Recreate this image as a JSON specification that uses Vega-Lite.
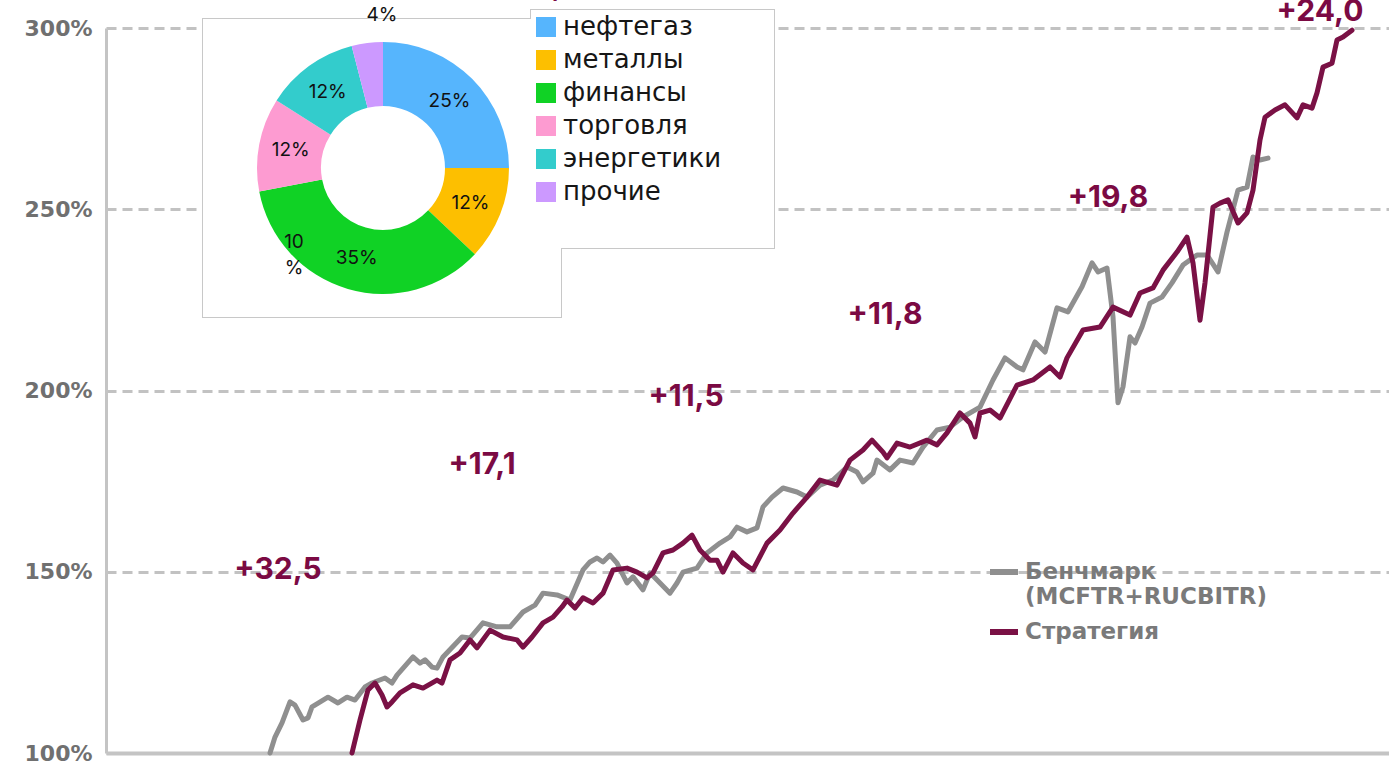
{
  "$schema": "https://vega.github.io/schema/vega-lite/v6.json",
  "width": 1283,
  "height": 725,
  "autosize": {"type": "none"},
  "padding": {"left": 106, "top": 28, "right": 0, "bottom": 11},
  "background": "white",
  "config": {
    "view": {"stroke": null},
    "axisY": {"domainColor": "#c4c4c4", "domainWidth": 3, "ticks": false, "labelFont": "DejaVu Sans", "labelFontWeight": "bold", "labelFontSize": 22, "labelColor": "#707070", "labelPadding": 14, "gridColor": "#c2c2c2", "gridWidth": 3, "gridDash": [10, 6], "title": null},
    "axisX": {"domainColor": "#c4c4c4", "domainWidth": 4, "ticks": false, "labels": false, "grid": false, "title": null}
  },
  "datasets": {
    "perf": [
      {"series": "Бенчмарк (MCFTR+RUCBITR)", "t": 16.4, "v": 100},
      {"series": "Бенчмарк (MCFTR+RUCBITR)", "t": 16.9, "v": 104.4},
      {"series": "Бенчмарк (MCFTR+RUCBITR)", "t": 17.6, "v": 108.3},
      {"series": "Бенчмарк (MCFTR+RUCBITR)", "t": 18.4, "v": 114.1},
      {"series": "Бенчмарк (MCFTR+RUCBITR)", "t": 18.9, "v": 113.2},
      {"series": "Бенчмарк (MCFTR+RUCBITR)", "t": 19.7, "v": 109.1},
      {"series": "Бенчмарк (MCFTR+RUCBITR)", "t": 20.2, "v": 109.7},
      {"series": "Бенчмарк (MCFTR+RUCBITR)", "t": 20.6, "v": 112.7},
      {"series": "Бенчмарк (MCFTR+RUCBITR)", "t": 22.2, "v": 115.4},
      {"series": "Бенчмарк (MCFTR+RUCBITR)", "t": 23.2, "v": 113.8},
      {"series": "Бенчмарк (MCFTR+RUCBITR)", "t": 24.1, "v": 115.4},
      {"series": "Бенчмарк (MCFTR+RUCBITR)", "t": 24.9, "v": 114.6},
      {"series": "Бенчмарк (MCFTR+RUCBITR)", "t": 25.9, "v": 118.2},
      {"series": "Бенчмарк (MCFTR+RUCBITR)", "t": 26.6, "v": 119.3},
      {"series": "Бенчмарк (MCFTR+RUCBITR)", "t": 27.9, "v": 120.7},
      {"series": "Бенчмарк (MCFTR+RUCBITR)", "t": 28.6, "v": 119.3},
      {"series": "Бенчмарк (MCFTR+RUCBITR)", "t": 29.1, "v": 121.5},
      {"series": "Бенчмарк (MCFTR+RUCBITR)", "t": 30.7, "v": 126.5},
      {"series": "Бенчмарк (MCFTR+RUCBITR)", "t": 31.4, "v": 124.8},
      {"series": "Бенчмарк (MCFTR+RUCBITR)", "t": 31.9, "v": 125.7},
      {"series": "Бенчмарк (MCFTR+RUCBITR)", "t": 32.6, "v": 123.7},
      {"series": "Бенчмарк (MCFTR+RUCBITR)", "t": 33.1, "v": 123.4},
      {"series": "Бенчмарк (MCFTR+RUCBITR)", "t": 33.7, "v": 126.5},
      {"series": "Бенчмарк (MCFTR+RUCBITR)", "t": 35.6, "v": 132.0},
      {"series": "Бенчмарк (MCFTR+RUCBITR)", "t": 36.4, "v": 131.7},
      {"series": "Бенчмарк (MCFTR+RUCBITR)", "t": 37.7, "v": 135.9},
      {"series": "Бенчмарк (MCFTR+RUCBITR)", "t": 39.1, "v": 134.8},
      {"series": "Бенчмарк (MCFTR+RUCBITR)", "t": 40.4, "v": 134.8},
      {"series": "Бенчмарк (MCFTR+RUCBITR)", "t": 41.7, "v": 138.9},
      {"series": "Бенчмарк (MCFTR+RUCBITR)", "t": 42.9, "v": 140.8},
      {"series": "Бенчмарк (MCFTR+RUCBITR)", "t": 43.7, "v": 144.1},
      {"series": "Бенчмарк (MCFTR+RUCBITR)", "t": 45.1, "v": 143.6},
      {"series": "Бенчмарк (MCFTR+RUCBITR)", "t": 46.4, "v": 142.2},
      {"series": "Бенчмарк (MCFTR+RUCBITR)", "t": 47.7, "v": 150.5},
      {"series": "Бенчмарк (MCFTR+RUCBITR)", "t": 48.4, "v": 152.7},
      {"series": "Бенчмарк (MCFTR+RUCBITR)", "t": 49.1, "v": 153.8},
      {"series": "Бенчмарк (MCFTR+RUCBITR)", "t": 49.7, "v": 152.7},
      {"series": "Бенчмарк (MCFTR+RUCBITR)", "t": 50.4, "v": 154.6},
      {"series": "Бенчмарк (MCFTR+RUCBITR)", "t": 51.1, "v": 152.4},
      {"series": "Бенчмарк (MCFTR+RUCBITR)", "t": 52.1, "v": 146.9},
      {"series": "Бенчмарк (MCFTR+RUCBITR)", "t": 52.7, "v": 148.6},
      {"series": "Бенчмарк (MCFTR+RUCBITR)", "t": 53.7, "v": 145.0},
      {"series": "Бенчмарк (MCFTR+RUCBITR)", "t": 54.4, "v": 149.7},
      {"series": "Бенчмарк (MCFTR+RUCBITR)", "t": 55.4, "v": 146.9},
      {"series": "Бенчмарк (MCFTR+RUCBITR)", "t": 56.4, "v": 144.1},
      {"series": "Бенчмарк (MCFTR+RUCBITR)", "t": 57.1, "v": 146.9},
      {"series": "Бенчмарк (MCFTR+RUCBITR)", "t": 57.7, "v": 149.9},
      {"series": "Бенчмарк (MCFTR+RUCBITR)", "t": 59.1, "v": 151.0},
      {"series": "Бенчмарк (MCFTR+RUCBITR)", "t": 60.1, "v": 155.2},
      {"series": "Бенчмарк (MCFTR+RUCBITR)", "t": 61.4, "v": 157.9},
      {"series": "Бенчмарк (MCFTR+RUCBITR)", "t": 62.4, "v": 159.6},
      {"series": "Бенчмарк (MCFTR+RUCBITR)", "t": 63.1, "v": 162.3},
      {"series": "Бенчмарк (MCFTR+RUCBITR)", "t": 64.1, "v": 161.0},
      {"series": "Бенчмарк (MCFTR+RUCBITR)", "t": 65.1, "v": 162.1},
      {"series": "Бенчмарк (MCFTR+RUCBITR)", "t": 65.7, "v": 167.9},
      {"series": "Бенчмарк (MCFTR+RUCBITR)", "t": 66.6, "v": 170.6},
      {"series": "Бенчмарк (MCFTR+RUCBITR)", "t": 67.7, "v": 173.1},
      {"series": "Бенчмарк (MCFTR+RUCBITR)", "t": 69.1, "v": 172.0},
      {"series": "Бенчмарк (MCFTR+RUCBITR)", "t": 70.1, "v": 170.6},
      {"series": "Бенчмарк (MCFTR+RUCBITR)", "t": 71.4, "v": 173.9},
      {"series": "Бенчмарк (MCFTR+RUCBITR)", "t": 72.7, "v": 175.3},
      {"series": "Бенчмарк (MCFTR+RUCBITR)", "t": 74.1, "v": 178.9},
      {"series": "Бенчмарк (MCFTR+RUCBITR)", "t": 75.1, "v": 177.5},
      {"series": "Бенчмарк (MCFTR+RUCBITR)", "t": 75.7, "v": 174.8},
      {"series": "Бенчмарк (MCFTR+RUCBITR)", "t": 76.7, "v": 177.2},
      {"series": "Бенчмарк (MCFTR+RUCBITR)", "t": 77.1, "v": 180.8},
      {"series": "Бенчмарк (MCFTR+RUCBITR)", "t": 78.4, "v": 178.1},
      {"series": "Бенчмарк (MCFTR+RUCBITR)", "t": 79.4, "v": 180.8},
      {"series": "Бенчмарк (MCFTR+RUCBITR)", "t": 80.7, "v": 180.0},
      {"series": "Бенчмарк (MCFTR+RUCBITR)", "t": 81.7, "v": 184.4},
      {"series": "Бенчмарк (MCFTR+RUCBITR)", "t": 83.1, "v": 189.1},
      {"series": "Бенчмарк (MCFTR+RUCBITR)", "t": 84.4, "v": 189.9},
      {"series": "Бенчмарк (MCFTR+RUCBITR)", "t": 85.7, "v": 192.7},
      {"series": "Бенчмарк (MCFTR+RUCBITR)", "t": 87.4, "v": 195.4},
      {"series": "Бенчмарк (MCFTR+RUCBITR)", "t": 88.7, "v": 202.9},
      {"series": "Бенчмарк (MCFTR+RUCBITR)", "t": 89.9, "v": 209.0},
      {"series": "Бенчмарк (MCFTR+RUCBITR)", "t": 91.1, "v": 206.5},
      {"series": "Бенчмарк (MCFTR+RUCBITR)", "t": 91.7, "v": 205.7},
      {"series": "Бенчмарк (MCFTR+RUCBITR)", "t": 92.9, "v": 213.4},
      {"series": "Бенчмарк (MCFTR+RUCBITR)", "t": 93.9, "v": 210.6},
      {"series": "Бенчмарк (MCFTR+RUCBITR)", "t": 95.1, "v": 222.8},
      {"series": "Бенчмарк (MCFTR+RUCBITR)", "t": 96.2, "v": 221.7},
      {"series": "Бенчмарк (MCFTR+RUCBITR)", "t": 97.6, "v": 228.6},
      {"series": "Бенчмарк (MCFTR+RUCBITR)", "t": 98.6, "v": 235.2},
      {"series": "Бенчмарк (MCFTR+RUCBITR)", "t": 99.2, "v": 232.7},
      {"series": "Бенчмарк (MCFTR+RUCBITR)", "t": 100.1, "v": 233.8},
      {"series": "Бенчмарк (MCFTR+RUCBITR)", "t": 100.7, "v": 220.3},
      {"series": "Бенчмарк (MCFTR+RUCBITR)", "t": 101.2, "v": 196.6},
      {"series": "Бенчмарк (MCFTR+RUCBITR)", "t": 101.7, "v": 201.0},
      {"series": "Бенчмарк (MCFTR+RUCBITR)", "t": 102.4, "v": 214.8},
      {"series": "Бенчмарк (MCFTR+RUCBITR)", "t": 102.9, "v": 213.1},
      {"series": "Бенчмарк (MCFTR+RUCBITR)", "t": 103.6, "v": 217.5},
      {"series": "Бенчмарк (MCFTR+RUCBITR)", "t": 104.4, "v": 224.1},
      {"series": "Бенчмарк (MCFTR+RUCBITR)", "t": 105.6, "v": 225.8},
      {"series": "Бенчмарк (MCFTR+RUCBITR)", "t": 106.6, "v": 229.7},
      {"series": "Бенчмарк (MCFTR+RUCBITR)", "t": 107.7, "v": 234.6},
      {"series": "Бенчмарк (MCFTR+RUCBITR)", "t": 109.1, "v": 237.4},
      {"series": "Бенчмарк (MCFTR+RUCBITR)", "t": 110.1, "v": 237.4},
      {"series": "Бенчмарк (MCFTR+RUCBITR)", "t": 111.2, "v": 232.7},
      {"series": "Бенчмарк (MCFTR+RUCBITR)", "t": 112.1, "v": 243.7},
      {"series": "Бенчмарк (MCFTR+RUCBITR)", "t": 113.2, "v": 255.3},
      {"series": "Бенчмарк (MCFTR+RUCBITR)", "t": 114.1, "v": 256.1},
      {"series": "Бенчмарк (MCFTR+RUCBITR)", "t": 114.7, "v": 264.4},
      {"series": "Бенчмарк (MCFTR+RUCBITR)", "t": 115.4, "v": 263.6},
      {"series": "Бенчмарк (MCFTR+RUCBITR)", "t": 116.2, "v": 264.1},
      {"series": "Стратегия", "t": 24.6, "v": 100},
      {"series": "Стратегия", "t": 25.4, "v": 109.1},
      {"series": "Стратегия", "t": 26.2, "v": 117.4},
      {"series": "Стратегия", "t": 26.9, "v": 119.3},
      {"series": "Стратегия", "t": 27.6, "v": 116.0},
      {"series": "Стратегия", "t": 28.1, "v": 112.7},
      {"series": "Стратегия", "t": 28.6, "v": 114.1},
      {"series": "Стратегия", "t": 29.4, "v": 116.6},
      {"series": "Стратегия", "t": 30.7, "v": 118.8},
      {"series": "Стратегия", "t": 31.7, "v": 117.9},
      {"series": "Стратегия", "t": 33.1, "v": 120.1},
      {"series": "Стратегия", "t": 33.6, "v": 119.3},
      {"series": "Стратегия", "t": 34.4, "v": 125.7},
      {"series": "Стратегия", "t": 35.4, "v": 127.6},
      {"series": "Стратегия", "t": 36.4, "v": 131.2},
      {"series": "Стратегия", "t": 37.1, "v": 129.0},
      {"series": "Стратегия", "t": 38.4, "v": 133.9},
      {"series": "Стратегия", "t": 39.7, "v": 132.0},
      {"series": "Стратегия", "t": 41.1, "v": 131.2},
      {"series": "Стратегия", "t": 41.7, "v": 129.2},
      {"series": "Стратегия", "t": 42.6, "v": 132.0},
      {"series": "Стратегия", "t": 43.7, "v": 135.9},
      {"series": "Стратегия", "t": 44.7, "v": 137.5},
      {"series": "Стратегия", "t": 45.6, "v": 140.3},
      {"series": "Стратегия", "t": 46.1, "v": 142.2},
      {"series": "Стратегия", "t": 46.9, "v": 140.0},
      {"series": "Стратегия", "t": 47.7, "v": 142.8},
      {"series": "Стратегия", "t": 48.7, "v": 141.4},
      {"series": "Стратегия", "t": 49.7, "v": 144.1},
      {"series": "Стратегия", "t": 50.7, "v": 150.5},
      {"series": "Стратегия", "t": 52.1, "v": 151.0},
      {"series": "Стратегия", "t": 53.1, "v": 149.9},
      {"series": "Стратегия", "t": 54.1, "v": 148.3},
      {"series": "Стратегия", "t": 54.7, "v": 149.7},
      {"series": "Стратегия", "t": 55.7, "v": 155.2},
      {"series": "Стратегия", "t": 56.7, "v": 156.0},
      {"series": "Стратегия", "t": 57.7, "v": 157.9},
      {"series": "Стратегия", "t": 58.6, "v": 160.1},
      {"series": "Стратегия", "t": 59.4, "v": 156.0},
      {"series": "Стратегия", "t": 60.4, "v": 153.2},
      {"series": "Стратегия", "t": 61.1, "v": 153.2},
      {"series": "Стратегия", "t": 61.7, "v": 149.9},
      {"series": "Стратегия", "t": 62.7, "v": 155.2},
      {"series": "Стратегия", "t": 63.7, "v": 152.4},
      {"series": "Стратегия", "t": 64.7, "v": 150.5},
      {"series": "Стратегия", "t": 66.1, "v": 157.9},
      {"series": "Стратегия", "t": 67.4, "v": 161.5},
      {"series": "Стратегия", "t": 68.7, "v": 166.2},
      {"series": "Стратегия", "t": 70.1, "v": 170.6},
      {"series": "Стратегия", "t": 71.4, "v": 175.3},
      {"series": "Стратегия", "t": 73.1, "v": 173.9},
      {"series": "Стратегия", "t": 74.4, "v": 180.8},
      {"series": "Стратегия", "t": 75.7, "v": 183.6},
      {"series": "Стратегия", "t": 76.6, "v": 186.3},
      {"series": "Стратегия", "t": 77.7, "v": 183.0},
      {"series": "Стратегия", "t": 78.1, "v": 181.4},
      {"series": "Стратегия", "t": 79.1, "v": 185.5},
      {"series": "Стратегия", "t": 80.4, "v": 184.4},
      {"series": "Стратегия", "t": 82.1, "v": 186.3},
      {"series": "Стратегия", "t": 83.1, "v": 185.0},
      {"series": "Стратегия", "t": 84.1, "v": 188.3},
      {"series": "Стратегия", "t": 85.4, "v": 193.8},
      {"series": "Стратегия", "t": 86.4, "v": 191.0},
      {"series": "Стратегия", "t": 86.9, "v": 187.2},
      {"series": "Стратегия", "t": 87.4, "v": 193.8},
      {"series": "Стратегия", "t": 88.4, "v": 194.6},
      {"series": "Стратегия", "t": 89.4, "v": 192.4},
      {"series": "Стратегия", "t": 91.1, "v": 201.5},
      {"series": "Стратегия", "t": 92.7, "v": 202.9},
      {"series": "Стратегия", "t": 94.4, "v": 206.5},
      {"series": "Стратегия", "t": 95.4, "v": 203.7},
      {"series": "Стратегия", "t": 96.1, "v": 209.0},
      {"series": "Стратегия", "t": 97.7, "v": 216.7},
      {"series": "Стратегия", "t": 99.4, "v": 217.5},
      {"series": "Стратегия", "t": 100.7, "v": 223.0},
      {"series": "Стратегия", "t": 102.4, "v": 220.8},
      {"series": "Стратегия", "t": 103.4, "v": 226.9},
      {"series": "Стратегия", "t": 104.7, "v": 228.3},
      {"series": "Стратегия", "t": 105.7, "v": 233.2},
      {"series": "Стратегия", "t": 107.1, "v": 238.2},
      {"series": "Стратегия", "t": 108.1, "v": 242.3},
      {"series": "Стратегия", "t": 108.7, "v": 235.2},
      {"series": "Стратегия", "t": 109.4, "v": 219.4},
      {"series": "Стратегия", "t": 109.9, "v": 229.7},
      {"series": "Стратегия", "t": 110.7, "v": 250.6},
      {"series": "Стратегия", "t": 111.4, "v": 251.7},
      {"series": "Стратегия", "t": 112.2, "v": 252.6},
      {"series": "Стратегия", "t": 113.2, "v": 246.2},
      {"series": "Стратегия", "t": 114.1, "v": 249.0},
      {"series": "Стратегия", "t": 114.7, "v": 255.3},
      {"series": "Стратегия", "t": 115.4, "v": 269.1},
      {"series": "Стратегия", "t": 115.9, "v": 275.4},
      {"series": "Стратегия", "t": 116.9, "v": 277.4},
      {"series": "Стратегия", "t": 117.9, "v": 278.8},
      {"series": "Стратегия", "t": 119.1, "v": 275.2},
      {"series": "Стратегия", "t": 119.7, "v": 278.8},
      {"series": "Стратегия", "t": 120.6, "v": 277.9},
      {"series": "Стратегия", "t": 121.1, "v": 282.1},
      {"series": "Стратегия", "t": 121.7, "v": 289.2},
      {"series": "Стратегия", "t": 122.6, "v": 290.3},
      {"series": "Стратегия", "t": 123.1, "v": 296.7},
      {"series": "Стратегия", "t": 123.7, "v": 297.5},
      {"series": "Стратегия", "t": 124.6, "v": 299.4}
    ],
    "notes": [
      {"label": "+32,5", "t": 17.2, "v": 150.5},
      {"label": "+17,1", "t": 37.6, "v": 179.4},
      {"label": "+11,5", "t": 58.0, "v": 198.2},
      {"label": "+11,8", "t": 77.9, "v": 220.8},
      {"label": "+19,8", "t": 100.2, "v": 253.1},
      {"label": "+24,0", "t": 121.4, "v": 304.4},
      {"label": "+10,9", "t": 43.4, "v": 311.6}
    ],
    "pie": [
      {"sector": "нефтегаз", "share": 25, "i": 1, "label": "25%"},
      {"sector": "металлы", "share": 12, "i": 2, "label": "12%"},
      {"sector": "финансы", "share": 35, "i": 3, "label": "35%"},
      {"sector": "торговля", "share": 12, "i": 4, "label": "12%"},
      {"sector": "энергетики", "share": 12, "i": 5, "label": "12%"},
      {"sector": "прочие", "share": 4, "i": 6, "label": ""}
    ],
    "pieExtra": [
      {"label": "4%", "t": 27.6, "v": 303.6},
      {"label": "10\n%", "t": 18.8, "v": 240.9}
    ]
  },
  "layer": [
    {
      "data": {"name": "perf"},
      "transform": [{"filter": "datum.series != 'Стратегия'"}],
      "mark": {"type": "line", "strokeWidth": 5, "strokeJoin": "round", "strokeCap": "round"},
      "encoding": {
        "x": {"field": "t", "type": "quantitative", "scale": {"domain": [0, 128.3], "nice": false, "zero": false}, "axis": {"title": null}},
        "y": {"field": "v", "type": "quantitative", "scale": {"domain": [100, 300], "nice": false, "zero": false}, "axis": {"title": null, "values": [100, 150, 200, 250, 300], "labelExpr": "datum.value + '%'"}},
        "stroke": {"field": "series", "type": "nominal",
          "scale": {"domain": ["Бенчмарк (MCFTR+RUCBITR)", "Стратегия"], "range": ["#8f8f8f", "#7a1145"]},
          "legend": {"orient": "none", "legendX": 881, "legendY": 527, "title": null, "symbolType": "stroke", "symbolSize": 784, "symbolStrokeWidth": 6,
            "labelFont": "DejaVu Sans", "labelFontWeight": "bold", "labelFontSize": 23, "labelColor": "#7a7a7a", "labelOffset": 4, "labelLimit": 400, "rowPadding": 6,
            "labelExpr": "datum.label == 'Стратегия' ? datum.label : ['Бенчмарк', '(MCFTR+RUCBITR)']"}}
      }
    },
    {
      "data": {"name": "perf"},
      "transform": [{"filter": "datum.series == 'Стратегия'"}],
      "mark": {"type": "line", "strokeWidth": 5, "strokeJoin": "round", "strokeCap": "round"},
      "encoding": {
        "x": {"field": "t", "type": "quantitative", "axis": {"title": null}},
        "y": {"field": "v", "type": "quantitative", "axis": {"title": null}},
        "stroke": {"field": "series", "type": "nominal"}
      }
    },
    {
      "data": {"name": "notes"},
      "mark": {"type": "text", "font": "Inter", "fontWeight": "bold", "fontSize": 30, "fill": "#7b0a43", "align": "center", "baseline": "middle"},
      "encoding": {
        "x": {"field": "t", "type": "quantitative", "axis": {"title": null}},
        "y": {"field": "v", "type": "quantitative", "axis": {"title": null}},
        "text": {"field": "label"}
      }
    },
    {
      "data": {"values": [{}]},
      "mark": {"type": "rect", "fill": "white", "stroke": "#c8c8c8", "strokeWidth": 2},
      "encoding": {
        "x": {"datum": 9.7, "type": "quantitative", "axis": {"title": null}},
        "x2": {"datum": 45.5},
        "y": {"datum": 302.5, "type": "quantitative", "axis": {"title": null}},
        "y2": {"datum": 220.3}
      }
    },
    {
      "data": {"values": [{}]},
      "mark": {"type": "rect", "fill": "white", "stroke": "#c8c8c8", "strokeWidth": 2},
      "encoding": {
        "x": {"datum": 42.5, "type": "quantitative", "axis": {"title": null}},
        "x2": {"datum": 66.8},
        "y": {"datum": 305.0, "type": "quantitative", "axis": {"title": null}},
        "y2": {"datum": 239.3}
      }
    },
    {
      "data": {"values": [{}]},
      "mark": {"type": "rect", "fill": "white", "strokeWidth": 0},
      "encoding": {
        "x": {"datum": 9.7, "type": "quantitative", "axis": {"title": null}},
        "x2": {"datum": 45.5},
        "y": {"datum": 302.5, "type": "quantitative", "axis": {"title": null}},
        "y2": {"datum": 220.3}
      }
    },
    {
      "data": {"values": [{}]},
      "mark": {"type": "rect", "fill": "white", "strokeWidth": 0},
      "encoding": {
        "x": {"datum": 42.5, "type": "quantitative", "axis": {"title": null}},
        "x2": {"datum": 66.8},
        "y": {"datum": 305.0, "type": "quantitative", "axis": {"title": null}},
        "y2": {"datum": 239.3}
      }
    },
    {
      "data": {"name": "pie"},
      "mark": {"type": "arc", "outerRadius": 126, "innerRadius": 62},
      "encoding": {
        "x": {"datum": 27.7, "type": "quantitative", "axis": {"title": null}},
        "y": {"datum": 261.4, "type": "quantitative", "axis": {"title": null}},
        "theta": {"field": "share", "type": "quantitative", "stack": true},
        "order": {"field": "i"},
        "fill": {"field": "sector", "type": "nominal",
          "scale": {"domain": ["нефтегаз", "металлы", "финансы", "торговля", "энергетики", "прочие"], "range": ["#56b5fd", "#fdbf00", "#10d225", "#fd9bd1", "#33cccc", "#cc99ff"]},
          "legend": {"orient": "none", "legendX": 427, "legendY": -14, "title": null, "symbolType": "square", "symbolSize": 400, "symbolStrokeWidth": 0,
            "labelFont": "DejaVu Sans", "labelFontSize": 26, "labelColor": "#161616", "labelOffset": 4, "labelLimit": 400, "rowPadding": 7}}
      }
    },
    {
      "data": {"name": "pie"},
      "mark": {"type": "text", "radius": 94, "font": "Inter", "fontSize": 19, "fill": "#111111", "align": "center", "baseline": "middle"},
      "encoding": {
        "x": {"datum": 27.7, "type": "quantitative", "axis": {"title": null}},
        "y": {"datum": 261.4, "type": "quantitative", "axis": {"title": null}},
        "theta": {"field": "share", "type": "quantitative", "stack": true},
        "order": {"field": "i"},
        "detail": {"field": "sector"},
        "text": {"field": "label"}
      }
    },
    {
      "data": {"name": "pieExtra"},
      "mark": {"type": "text", "font": "Inter", "fontSize": 19, "fill": "#111111", "align": "center", "baseline": "middle", "lineBreak": "\n", "lineHeight": 26},
      "encoding": {
        "x": {"field": "t", "type": "quantitative", "axis": {"title": null}},
        "y": {"field": "v", "type": "quantitative", "axis": {"title": null}},
        "text": {"field": "label"}
      }
    }
  ]
}
